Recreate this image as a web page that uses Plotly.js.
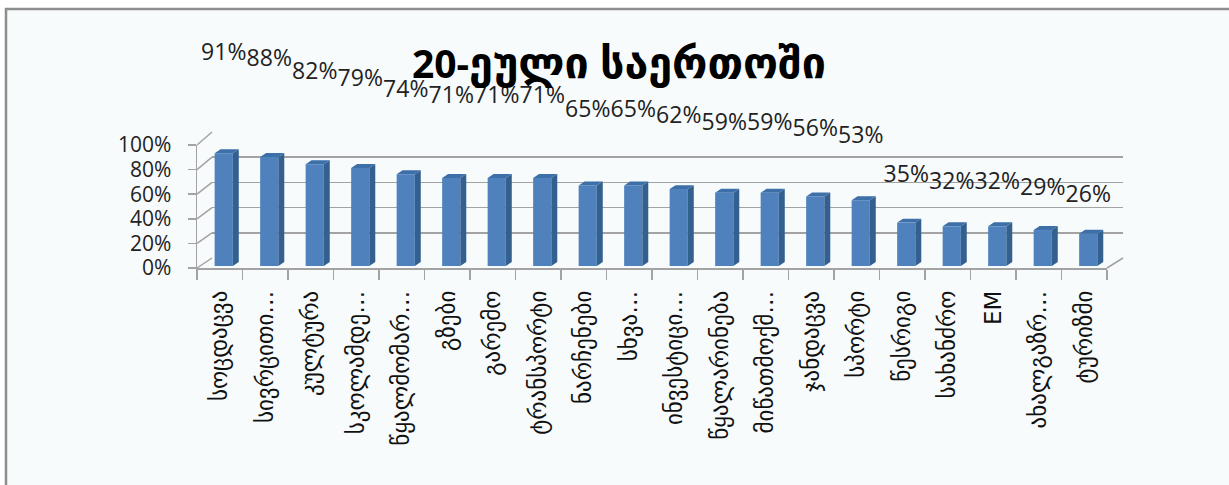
<!DOCTYPE html>
<html>
<head>
<meta charset="utf-8">
<script src="https://cdn.plot.ly/plotly-3.0.1.min.js"></script>
<style>
html,body{margin:0;padding:0;background:#fff;}
#chart{width:1229px;height:485px;}
</style>
</head>
<body>
<div id="chart"></div>
<script>
const categories = ["სოცდაცვა","სივრცითი…","კულტურა","სკოლამდე…","წყალმომარ…","გზები","გარემო","ტრანსპორტი","ნარჩენები","სხვა…","ინვესტიცი…","წყალარინება","მიწათმოქმ…","ჯანდაცვა","სპორტი","წესრიგი","სახანძრო","EM","ახალგაზრ…","ტურიზმი"];
const values = [91, 88, 82, 79, 74, 71, 71, 71, 65, 65, 62, 59, 59, 56, 53, 35, 32, 32, 29, 26];
const labelTexts = values.map(v => v + "%");
const yTicks = [0, 20, 40, 60, 80, 100];
const titleNum = "20-";
const titleWord = "ეული საერთოში";

const W = 1229, H = 485;
const fx = p => p / W;
const fy = p => 1 - p / H;

// plane geometry (pixels)
const front = {x0: 197, x1: 1107, yTop: 145, yBot: 268};
const back  = {x0: 212, x1: 1123, yTop: 132, yBot: 258};
const barP  = {x0: 201, x1: 1111, yTop: 142, yBot: 266};
const labP  = {yTop: 34.3, yBot: 252.8};

const N = values.length;
const idx = values.map((v, i) => i);
const hw = 0.2, ddx = 0.13, ddy = 3.2;

const sideX = [], sideY = [], topX = [], topY = [];
values.forEach((v, i) => {
  sideX.push(i + hw, i + hw + ddx, i + hw + ddx, i + hw, i + hw, null);
  sideY.push(0, ddy, v + ddy, v, 0, null);
  topX.push(i - hw, i + hw, i + hw + ddx, i - hw + ddx, i - hw, null);
  topY.push(v, v, v + ddy, v + ddy, v, null);
});

const gray = "#a3a3a3";

const traces = [
  {type: "scatter", x: categories, y: values, xaxis: "x", yaxis: "y", mode: "markers",
   marker: {opacity: 0}, hoverinfo: "skip", showlegend: false},
  {type: "scatter", x: [0], y: [0], xaxis: "x2", yaxis: "y2", mode: "markers",
   marker: {opacity: 0}, hoverinfo: "skip", showlegend: false},
  {type: "bar", x: idx, y: values, xaxis: "x3", yaxis: "y3", width: 0.4,
   marker: {color: "#4f81bd", line: {width: 0}}, hoverinfo: "skip", showlegend: false},
  {type: "scatter", x: sideX, y: sideY, xaxis: "x3", yaxis: "y3", mode: "lines",
   fill: "toself", fillcolor: "#34608f", line: {width: 0, color: "#34608f"},
   hoverinfo: "skip", showlegend: false, cliponaxis: false},
  {type: "scatter", x: topX, y: topY, xaxis: "x3", yaxis: "y3", mode: "lines",
   fill: "toself", fillcolor: "#3d6fa8", line: {width: 0, color: "#3d6fa8"},
   hoverinfo: "skip", showlegend: false, cliponaxis: false},
  {type: "scatter", x: idx, y: values, xaxis: "x4", yaxis: "y4", mode: "text",
   text: labelTexts, textposition: "middle center",
   textfont: {family: "Open Sans, DejaVu Sans, sans-serif", size: 23, color: "#222"},
   hoverinfo: "skip", showlegend: false, cliponaxis: false}
];

const shapes = [
  {type: "rect", xref: "paper", yref: "paper", x0: fx(6), x1: 1.05, y0: fy(9), y1: -0.05,
   fillcolor: "#f7fbfc", line: {color: "#8e8e8e", width: 2.5}, layer: "below"}
];
yTicks.forEach(t => {
  const yf = front.yBot - (front.yBot - front.yTop) * t / 100;
  const yb = back.yBot - (back.yBot - back.yTop) * t / 100;
  shapes.push({type: "line", xref: "paper", yref: "paper",
    x0: fx(front.x0), y0: fy(yf), x1: fx(back.x0), y1: fy(yb),
    line: {color: gray, width: 1.5}, layer: "below"});
});
shapes.push({type: "line", xref: "paper", yref: "paper",
  x0: fx(front.x1), y0: fy(front.yBot), x1: fx(back.x1), y1: fy(back.yBot),
  line: {color: gray, width: 1.5}, layer: "below"});

const layout = {
  width: W, height: H,
  margin: {l: 0, r: 0, t: 0, b: 0},
  paper_bgcolor: "#ffffff",
  plot_bgcolor: "rgba(0,0,0,0)",
  showlegend: false,
  title: {text: "<b>" + titleNum + "<span style='font-size:43px'>" + titleWord + "</span></b>",
          x: fx(619), xref: "paper", xanchor: "center",
          y: fy(64), yref: "container", yanchor: "middle",
          font: {family: "Open Sans, DejaVu Sans, sans-serif", size: 39, color: "#000"}},
  xaxis: {domain: [fx(front.x0), fx(front.x1)], anchor: "y", type: "category",
          categoryorder: "array", categoryarray: categories, range: [-0.5, N - 0.5],
          tickson: "boundaries", ticks: "outside", ticklen: 10, tickwidth: 1.5, tickcolor: gray,
          showline: true, linecolor: gray, linewidth: 1.5, showgrid: false, zeroline: false,
          tickangle: -90, ticklabelstandoff: 12,
          tickfont: {family: "DejaVu Sans, sans-serif", size: 23, color: "#111"}},
  yaxis: {domain: [fy(front.yBot), fy(front.yTop)], anchor: "x", range: [0, 100],
          tickvals: yTicks, ticktext: yTicks.map(t => t + "%"),
          ticks: "outside", ticklen: 8, tickwidth: 1.5, tickcolor: gray,
          showline: true, linecolor: gray, linewidth: 1.5, showgrid: false, zeroline: false,
          ticklabelstandoff: 12,
          tickfont: {family: "Open Sans, sans-serif", size: 21, color: "#222"}},
  xaxis2: {domain: [fx(back.x0), fx(back.x1)], anchor: "y2", range: [0, 1],
           showticklabels: false, ticks: "", showgrid: false, zeroline: false, showline: false},
  yaxis2: {domain: [fy(back.yBot), fy(back.yTop)], anchor: "x2", range: [0, 100],
           tickvals: yTicks, showticklabels: false, ticks: "", showgrid: true,
           gridcolor: gray, gridwidth: 1.5, zeroline: false, showline: false},
  xaxis3: {domain: [fx(barP.x0), fx(barP.x1)], anchor: "y3", range: [-0.5, N - 0.5],
           showticklabels: false, ticks: "", showgrid: false, zeroline: false, showline: false},
  yaxis3: {domain: [fy(barP.yBot), fy(barP.yTop)], anchor: "x3", range: [0, 100],
           showticklabels: false, ticks: "", showgrid: false, zeroline: false, showline: false},
  xaxis4: {domain: [fx(barP.x0), fx(barP.x1)], anchor: "y4", range: [-0.5, N - 0.5],
           showticklabels: false, ticks: "", showgrid: false, zeroline: false, showline: false},
  yaxis4: {domain: [fy(labP.yBot), fy(labP.yTop)], anchor: "x4", range: [0, 100],
           showticklabels: false, ticks: "", showgrid: false, zeroline: false, showline: false},
  shapes: shapes
};

Plotly.newPlot("chart", traces, layout, {staticPlot: true, displayModeBar: false});
</script>
</body>
</html>
